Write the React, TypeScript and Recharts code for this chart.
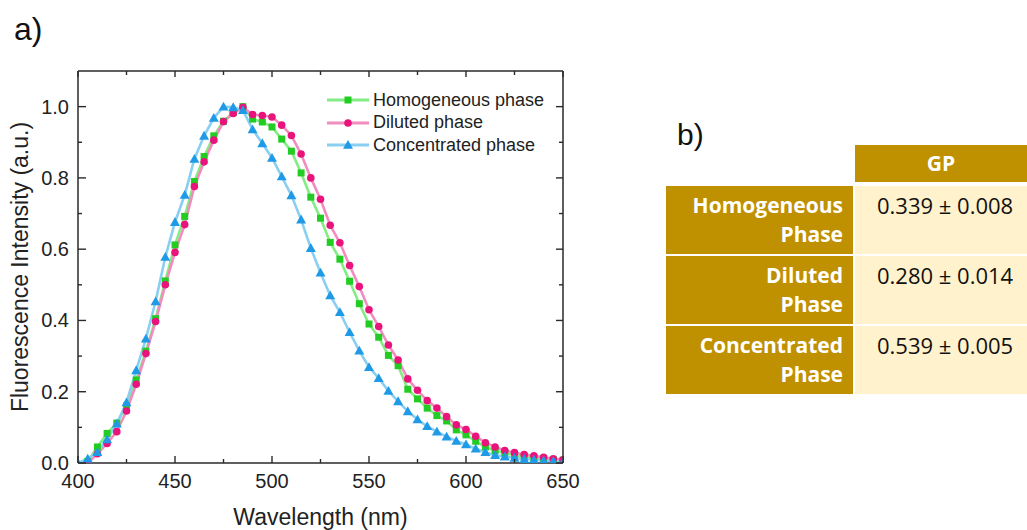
import { LineChart, Line, XAxis, YAxis, Legend } from "recharts";

const wavelengths: number[] = [
  400, 405, 410, 415, 420, 425, 430, 435, 440, 445, 450, 455, 460, 465, 470,
  475, 480, 485, 490, 495, 500, 505, 510, 515, 520, 525, 530, 535, 540, 545,
  550, 555, 560, 565, 570, 575, 580, 585, 590, 595, 600, 605, 610, 615, 620,
  625, 630, 635, 640, 645, 650,
];

const homogeneous: Array<number | null> = [
  null, 0.004, 0.045, 0.083, 0.112, 0.16, 0.233, 0.314, 0.405, 0.511, 0.612,
  0.692, 0.79, 0.86, 0.918, 0.959, 0.983, 1.0, 0.965, 0.957, 0.943, 0.909,
  0.875, 0.814, 0.746, 0.687, 0.619, 0.572, 0.51, 0.447, 0.39, 0.353, 0.302,
  0.273, 0.207, 0.18, 0.154, 0.133, 0.118, 0.093, 0.079, 0.061, 0.045, 0.035,
  0.028, 0.022, 0.018, 0.015, 0.013, 0.01, 0.008,
];

const diluted: Array<number | null> = [
  null, 0.0, 0.026, 0.055, 0.088, 0.146, 0.221, 0.307, 0.397, 0.5, 0.591,
  0.669, 0.776, 0.845, 0.906, 0.958, 0.981, 0.998, 0.978, 0.975, 0.971, 0.948,
  0.919, 0.867, 0.8, 0.74, 0.667, 0.618, 0.554, 0.495, 0.43, 0.383, 0.331,
  0.289, 0.236, 0.204, 0.175, 0.154, 0.13, 0.107, 0.094, 0.075, 0.057, 0.045,
  0.035, 0.029, 0.024, 0.02, 0.016, 0.012, 0.009,
];

const concentrated: Array<number | null> = [
  0.0, 0.012, 0.03, 0.066, 0.11, 0.17, 0.26, 0.349, 0.453, 0.578, 0.676,
  0.752, 0.853, 0.918, 0.968, 1.0, 0.998, 0.99, 0.936, 0.897, 0.856, 0.804,
  0.751, 0.683, 0.603, 0.534, 0.47, 0.423, 0.367, 0.315, 0.269, 0.238, 0.202,
  0.173, 0.145, 0.122, 0.103, 0.088, 0.074, 0.062, 0.052, 0.04, 0.03, 0.022,
  0.018, 0.014, 0.011, 0.009, 0.007, 0.005, 0.003,
];

const xTicks: number[] = [400, 425, 450, 475, 500, 525, 550, 575, 600, 625, 650];
const yTicks: number[] = [0, 0.1, 0.2, 0.3, 0.4, 0.5, 0.6, 0.7, 0.8, 0.9, 1.0];

const tableHeader = "GP";
const phaseNames: string[][] = [
  ["Homogeneous", "Phase"],
  ["Diluted", "Phase"],
  ["Concentrated", "Phase"],
];
const gpValues: string[] = ["0.339 ± 0.008", "0.280 ± 0.014", "0.539 ± 0.005"];

const series = [
  { key: "homogeneous", name: "Homogeneous phase", line: "#84ec84", mark: "#22cc22", shape: "square" },
  { key: "diluted", name: "Diluted phase", line: "#f28cbf", mark: "#e8147c", shape: "circle" },
  { key: "concentrated", name: "Concentrated phase", line: "#88cff2", mark: "#1f9ae6", shape: "triangle" },
];

const rows = wavelengths.map((wl, i) => ({
  wl,
  homogeneous: homogeneous[i],
  diluted: diluted[i],
  concentrated: concentrated[i],
}));

const FONT = '"Liberation Sans", Arial, sans-serif';
const AXIS = "#2a2a2a";
const GOLD = "#bf9000";
const CREAM = "#fff2cc";

const marker = (shape: string, color: string, cx: number, cy: number, k?: any) => {
  if (shape === "square")
    return <rect key={k} x={cx - 3.5} y={cy - 3.5} width={7} height={7} fill={color} />;
  if (shape === "circle") return <circle key={k} cx={cx} cy={cy} r={3.8} fill={color} />;
  return (
    <path
      key={k}
      d={`M${cx},${cy - 5} L${cx + 5},${cy + 3.8} L${cx - 5},${cy + 3.8} Z`}
      fill={color}
    />
  );
};

const makeDot = (shape: string, color: string) => (props: any) => {
  const { cx, cy, index, value } = props;
  if (cx == null || cy == null || value == null || Number.isNaN(cy)) return <g key={index} />;
  return marker(shape, color, cx, cy, index);
};

const isMajorX = (v: number) => v % 50 === 0;
const isMajorY = (v: number) => Math.round(v * 10) % 2 === 0;

// tickSize/tickMargin are 0, so x/y below sit right on the axis line
const BottomTick = (props: any) => {
  const { x, y, payload } = props;
  const major = isMajorX(payload.value);
  return (
    <g>
      <line x1={x} y1={y} x2={x} y2={y - (major ? 7 : 4)} stroke={AXIS} strokeWidth={1.4} />
      {major && (
        <text x={x} y={y + 25} textAnchor="middle" fontSize={20} fill="#222" fontFamily={FONT}>
          {payload.value}
        </text>
      )}
    </g>
  );
};

const TopTick = (props: any) => {
  const { x, y, payload } = props;
  const major = isMajorX(payload.value);
  return <line x1={x} y1={y} x2={x} y2={y + (major ? 6 : 4)} stroke={AXIS} strokeWidth={1.4} />;
};

const LeftTick = (props: any) => {
  const { x, y, payload } = props;
  const major = isMajorY(payload.value);
  return (
    <g>
      <line x1={x} y1={y} x2={x + (major ? 8 : 4)} y2={y} stroke={AXIS} strokeWidth={1.4} />
      {major && (
        <text x={x - 9} y={y + 7} textAnchor="end" fontSize={20} fill="#222" fontFamily={FONT}>
          {payload.value.toFixed(1)}
        </text>
      )}
    </g>
  );
};

const RightTick = (props: any) => {
  const { x, y, payload } = props;
  const major = isMajorY(payload.value);
  return <line x1={x} y1={y} x2={x - (major ? 7 : 4)} y2={y} stroke={AXIS} strokeWidth={1.4} />;
};

const LegendBox = () => (
  <div style={{ fontFamily: FONT, fontSize: 18, color: "#222" }}>
    {series.map((s) => (
      <div key={s.key} style={{ display: "flex", alignItems: "center", height: 22.5 }}>
        <svg width={46} height={14} style={{ marginRight: 2 }}>
          <line x1={2} y1={7} x2={44} y2={7} stroke={s.line} strokeWidth={3} />
          {marker(s.shape, s.mark, 23, 7)}
        </svg>
        <span style={{ whiteSpace: "nowrap" }}>{s.name}</span>
      </div>
    ))}
  </div>
);

const cell = {
  position: "absolute" as const,
  boxSizing: "border-box" as const,
  fontFamily: '"Open Sans", sans-serif',
  fontSize: 21,
  lineHeight: "29px",
};

const App = () => {
  return (
    <div style={{ position: "absolute", left: 0, top: 0, width: 1027, height: 530, background: "#fff" }}>
      <div style={{ position: "absolute", left: 14, top: 11, fontFamily: FONT, fontSize: 32, color: "#111" }}>
        a)
      </div>
      <div style={{ position: "absolute", left: 0, top: 0 }}>
        <LineChart
          width={600}
          height={530}
          data={rows}
          margin={{ top: 70, right: 36, bottom: 66, left: 77 }}
        >
          <XAxis
            xAxisId="b"
            dataKey="wl"
            type="number"
            domain={[400, 650]}
            ticks={xTicks}
            interval={0}
            height={1}
            tickSize={0}
            tickMargin={0}
            tick={BottomTick}
            tickLine={false}
            axisLine={{ stroke: AXIS, strokeWidth: 1.5 }}
            allowDataOverflow
            label={{
              content: (p: any) => {
                const vb = p.viewBox || {};
                return (
                  <text
                    x={(vb.x ?? 78) + (vb.width ?? 485) / 2}
                    y={(vb.y ?? 463) + 62}
                    textAnchor="middle"
                    fontSize={23}
                    fill="#222"
                    fontFamily={FONT}
                  >
                    Wavelength (nm)
                  </text>
                );
              },
            }}
          />
          <XAxis
            xAxisId="t"
            orientation="top"
            dataKey="wl"
            type="number"
            domain={[400, 650]}
            ticks={xTicks}
            interval={0}
            height={1}
            tickSize={0}
            tickMargin={0}
            tick={TopTick}
            tickLine={false}
            axisLine={{ stroke: AXIS, strokeWidth: 1.5 }}
            allowDataOverflow
          />
          <YAxis
            yAxisId="l"
            type="number"
            domain={[0, 1.1]}
            ticks={yTicks}
            interval={0}
            width={1}
            tickSize={0}
            tickMargin={0}
            tick={LeftTick}
            tickLine={false}
            axisLine={{ stroke: AXIS, strokeWidth: 1.5 }}
            allowDataOverflow
            label={{
              content: (p: any) => {
                const vb = p.viewBox || {};
                const cx = (vb.x ?? 77) + (vb.width ?? 1) - 50;
                const cy = (vb.y ?? 71) + (vb.height ?? 392) / 2;
                return (
                  <text
                    x={cx}
                    y={cy}
                    transform={`rotate(-90, ${cx}, ${cy})`}
                    textAnchor="middle"
                    fontSize={23}
                    fill="#222"
                    fontFamily={FONT}
                  >
                    Fluorescence Intensity (a.u.)
                  </text>
                );
              },
            }}
          />
          <YAxis
            yAxisId="r"
            orientation="right"
            type="number"
            domain={[0, 1.1]}
            ticks={yTicks}
            interval={0}
            width={1}
            tickSize={0}
            tickMargin={0}
            tick={RightTick}
            tickLine={false}
            axisLine={{ stroke: AXIS, strokeWidth: 1.5 }}
            allowDataOverflow
          />
          <Legend
            layout="vertical"
            align="center"
            verticalAlign="middle"
            content={<LegendBox />}
            wrapperStyle={{ left: 325, top: 89, width: 240, height: 70 }}
          />
          {series.map((s) => (
            <Line
              key={s.key}
              xAxisId="b"
              yAxisId="l"
              dataKey={s.key}
              name={s.name}
              type="linear"
              stroke={s.line}
              strokeWidth={2.6}
              dot={makeDot(s.shape, s.mark)}
              activeDot={false}
              isAnimationActive={false}
            />
          ))}
        </LineChart>
      </div>

      <div style={{ position: "absolute", left: 677, top: 118, fontFamily: FONT, fontSize: 30, color: "#111" }}>
        b)
      </div>
      <div
        style={{
          ...cell,
          left: 855,
          top: 145,
          width: 172,
          height: 37,
          background: GOLD,
          color: "#fff",
          fontWeight: 700,
          textAlign: "center",
          lineHeight: "37px",
        }}
      >
        {tableHeader}
      </div>
      {phaseNames.map((name, i) => (
        <div key={name[0]}>
          <div
            style={{
              ...cell,
              left: 666,
              top: 186 + i * 70,
              width: 187,
              height: 68,
              background: GOLD,
              color: "#fff",
              fontWeight: 700,
              textAlign: "right",
              paddingRight: 10,
              paddingTop: 5,
            }}
          >
            {name[0]}
            <br />
            {name[1]}
          </div>
          <div
            style={{
              ...cell,
              left: 855,
              top: 186 + i * 70,
              width: 172,
              height: 68,
              background: CREAM,
              color: "#111",
              fontSize: 22,
              paddingLeft: 22,
              paddingTop: 5,
              whiteSpace: "nowrap",
            }}
          >
            {gpValues[i]}
          </div>
        </div>
      ))}
    </div>
  );
};

export default App;
